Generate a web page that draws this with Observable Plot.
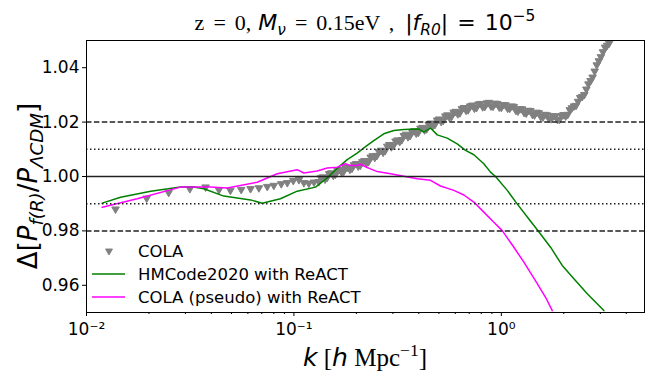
<!DOCTYPE html>
<html><head><meta charset="utf-8">
<script src="https://cdn.jsdelivr.net/npm/d3@7"></script>
<script src="https://cdn.jsdelivr.net/npm/@observablehq/plot@0.6"></script>
<style>body{margin:0;background:#fff}</style>
</head><body><div id="chart"></div>
<script>
// COLA (triangles)
const colaK = [0.0138,0.0195,0.0249,0.0315,0.0375,0.0435,0.0494,0.0557,0.0618,0.0678,0.0744,0.0800,0.0869,0.0929,0.0993,0.1057,0.1117,0.1180,0.1250,
0.1318,0.1380,0.1445,0.1514,0.1585,0.1660,0.1738,0.1820,0.1905,0.1995,0.2089,0.2188,0.2291,0.2399,0.2512,0.2630,0.2754,0.2884,0.3020,0.3162,
0.3311,0.3467,0.3631,0.3802,0.3981,0.4169,0.4365,0.4571,0.4786,0.5012,0.5248,0.5495,0.5754,0.6026,0.6310,0.6607,0.6918,0.7244,0.7586,0.7943,
0.8318,0.8710,0.9120,0.9550,1.000,1.047,1.096,1.148,1.202,1.259,1.318,1.380,1.445,1.514,1.585,1.660,1.738,1.820,1.905,1.995,2.089,2.188,
2.239,2.291,2.344,2.399,2.455,2.512,2.570,2.630,2.692,2.754,2.818,2.884,2.951,3.020,3.090,3.162,3.236,3.311,3.388,3.467,3.548,3.631];
const colaV = [0.9880,0.9920,0.9941,0.9955,0.9961,0.9951,0.9949,0.9952,0.9955,0.9958,0.9963,0.9967,0.9973,0.9977,0.9985,0.9988,0.9977,0.9975,0.9979,
0.9981,0.9998,0.9996,1.0013,1.0008,1.0025,1.0019,1.0034,1.0030,1.0047,1.0041,1.0058,1.0055,1.0076,1.0077,1.0096,1.0095,1.0117,1.0114,1.0134,
1.0135,1.0155,1.0150,1.0168,1.0162,1.0180,1.0175,1.0196,1.0191,1.0211,1.0206,1.0226,1.0221,1.0239,1.0234,1.0253,1.0245,1.0262,1.0253,1.0268,
1.0257,1.0272,1.0258,1.0268,1.0254,1.0263,1.0250,1.0257,1.0240,1.0248,1.0233,1.0242,1.0226,1.0234,1.0218,1.0226,1.0212,1.0222,1.0209,1.0227,1.0228,1.0252,
1.0259,1.0261,1.0276,1.0290,1.0294,1.0301,1.0321,1.0340,1.0352,1.0365,1.0387,1.0410,1.0425,1.0440,1.0458,1.0475,1.0482,1.0490,1.0507,1.0525,1.0537,1.0550];
// COLA, further points of the dense band
const colaK2 = [0.1349,0.1413,0.1479,0.1549,0.1622,0.1698,0.1778,0.1862,0.1950,0.2042,0.2138,0.2239,0.2344,0.2455,0.2570,0.2692,0.2818,0.2951,0.3090,
0.3236,0.3388,0.3548,0.3715,0.3890,0.4074,0.4266,0.4467,0.4677,0.4898,0.5129,0.5370,0.5623,0.5888,0.6166,0.6457,0.6761,0.7079,0.7413,0.7762,
0.8128,0.8511,0.8913,0.9333,0.9772,1.023,1.072,1.122,1.175,1.230,1.288,1.349,1.413,1.479,1.549,1.622,1.698,1.778,1.862,1.950,2.042,2.138];
const colaV2 = [0.9995,0.9990,1.0010,1.0004,1.0021,1.0016,1.0032,1.0026,1.0043,1.0038,1.0054,1.0050,1.0071,1.0070,1.0091,1.0089,1.0111,1.0109,1.0130,
1.0128,1.0150,1.0146,1.0165,1.0159,1.0177,1.0171,1.0191,1.0187,1.0207,1.0202,1.0222,1.0217,1.0236,1.0230,1.0249,1.0243,1.0259,1.0251,1.0266,
1.0256,1.0270,1.0259,1.0269,1.0255,1.0264,1.0251,1.0259,1.0243,1.0249,1.0235,1.0243,1.0228,1.0236,1.0220,1.0228,1.0213,1.0223,1.0210,1.0224,1.0222,1.0245];

// HMCode2020 with ReACT
const hmK = [0.0119,0.0146,0.0204,0.0284,0.0329,0.0368,0.0459,0.0618,0.0703,0.0861,0.1037,0.1271,0.1447,0.1617,0.1807,0.2018,0.2214,0.2427,0.2713,
0.3032,0.3388,0.4001,0.4229,0.4556,0.4908,0.5484,0.6128,0.6720,0.7370,0.8233,0.8869,0.9376,1.068,1.184,1.357,1.490,1.727,1.966,2.237,2.596,3.120];
const hmV = [0.9902,0.9924,0.9946,0.9961,0.9961,0.9955,0.9928,0.9914,0.9902,0.9918,0.9946,0.9961,0.9995,1.0030,1.0062,1.0086,1.0110,1.0132,1.0157,
1.0169,1.0173,1.0175,1.0163,1.0178,1.0153,1.0141,1.0120,1.0096,1.0080,1.0047,1.0016,1.0000,0.9949,0.9902,0.9844,0.9804,0.9740,0.9673,0.9624,0.9569,0.9507];

// COLA (pseudo) with ReACT
const psK = [0.0119,0.01756,0.02839,0.03961,0.04770,0.06653,0.08309,0.1037,0.1116,0.1295,0.1447,0.1617,0.1773,0.1875,0.2018,0.2095,0.2256,0.2340,0.2522,
0.2922,0.3388,0.3930,0.4556,0.5089,0.5902,0.6595,0.7370,0.8233,0.9201,1.010,1.149,1.284,1.490,1.634,1.760];
const psV = [0.9887,0.9918,0.9961,0.9961,0.9958,0.9979,1.0010,1.0025,1.0013,1.0020,1.0031,1.0034,1.0047,1.0040,1.0040,1.0045,1.0033,1.0028,1.0018,
1.0010,1.0001,0.9992,0.9986,0.9965,0.9949,0.9932,0.9906,0.9869,0.9832,0.9801,0.9740,0.9685,0.9606,0.9556,0.9507];

const xMajorTicks = [0.01, 0.1, 1];
const xTickLabels = ["10\u207B\u00B2", "10\u207B\u00B9", "10\u2070"];
const xMinorTicks = [0.02,0.03,0.04,0.05,0.06,0.07,0.08,0.09,0.2,0.3,0.4,0.5,0.6,0.7,0.8,0.9,2,3,4];
const yTicks = [0.96, 0.98, 1.00, 1.02, 1.04];
const refSolid = [1.0];
const refDashed = [0.98, 1.02];
const refDotted = [0.99, 1.01];
const legendLabels = ["COLA", "HMCode2020 with ReACT", "COLA (pseudo) with ReACT"];
const colors = ["#808080", "#008000", "#ff00ff"];

const cola = colaK.map((k, i) => ({k, v: colaV[i]})).concat(colaK2.map((k, i) => ({k, v: colaV2[i]})));
const hm = hmK.map((k, i) => ({k, v: hmV[i]}));
const ps = psK.map((k, i) => ({k, v: psV[i]}));

const chart = Plot.plot({
  width: 651, height: 382,
  marginTop: 40, marginBottom: 70, marginLeft: 86, marginRight: 7,
  x: {type: "log", domain: [0.01, 4.9]},
  y: {domain: [0.95, 1.05]},
  style: {fontFamily: "DejaVu Sans", fontSize: "17px", color: "black", background: "white"},
  marks: [
    Plot.dot(cola, {x: "k", y: "v", symbol: "triangle", rotate: 180, r: 2.8, fill: colors[0], stroke: colors[0], strokeWidth: 1, clip: true}),
    Plot.line(hm, {x: "k", y: "v", stroke: colors[1], strokeWidth: 1.5, clip: true}),
    Plot.line(ps, {x: "k", y: "v", stroke: colors[2], strokeWidth: 1.5, clip: true}),
    Plot.ruleY(refSolid, {stroke: "#222", strokeWidth: 1.5}),
    Plot.ruleY(refDashed, {stroke: "#222", strokeWidth: 1.5, strokeDasharray: "5.5,2.4"}),
    Plot.ruleY(refDotted, {stroke: "#222", strokeWidth: 1.5, strokeDasharray: "1.5,2.5"}),
    Plot.axisX({ticks: xMajorTicks, tickFormat: d => xTickLabels[xMajorTicks.indexOf(d)], tickSize: 4, tickPadding: 6, label: null}),
    Plot.axisX({ticks: xMinorTicks, tickFormat: () => "", tickSize: 2, label: null}),
    Plot.axisY({ticks: yTicks, tickFormat: d3.format(".2f"), tickSize: 4, tickPadding: 3, label: null}),
    Plot.frame({stroke: "black", strokeWidth: 1})
  ]
});
document.getElementById("chart").appendChild(chart);

const svg = d3.select(chart);
const sans = "DejaVu Sans", serif = "Liberation Serif";
function rich(g, parts, size) {
  let prev = 0;
  parts.forEach(p => {
    const fs = p.sub || p.sup ? size * 0.7 : size;
    const shift = p.sub ? size * 0.22 : p.sup ? -size * 0.42 : 0;
    g.append("tspan").text(p.t)
      .attr("font-family", p.f || sans)
      .attr("font-style", p.i ? "italic" : "normal")
      .attr("font-size", fs)
      .attr("dx", p.dx || 0)
      .attr("dy", shift - prev);
    prev = shift;
  });
}
// Title
const title = svg.append("text").attr("x", 365).attr("y", 30).attr("text-anchor", "middle").attr("fill", "black");
rich(title, [
  {t: "z", f: serif},
  {t: "=", f: serif, dx: 9},
  {t: "0,", f: serif, dx: 9},
  {t: "M", i: true, dx: 7},
  {t: "\u03BD", i: true, sub: true},
  {t: "=", f: serif, dx: 9},
  {t: "0.15eV", f: serif, dx: 9},
  {t: ",", f: serif, dx: 11},
  {t: "|", dx: 11},
  {t: "f", i: true},
  {t: "R0", i: true, sub: true},
  {t: "|"},
  {t: "=", dx: 9},
  {t: "10", dx: 9},
  {t: "\u22125", sup: true}
], 22);
// X label
const xl = svg.append("text").attr("x", 365).attr("y", 366).attr("text-anchor", "middle").attr("fill", "black");
rich(xl, [
  {t: "k", i: true},
  {t: " [", f: serif},
  {t: "h", i: true},
  {t: " Mpc", f: serif},
  {t: "\u22121", f: serif, sup: true},
  {t: "]", f: serif}
], 25);
// Y label
const yl = svg.append("text").attr("transform", "translate(37,186) rotate(-90)").attr("text-anchor", "middle").attr("fill", "black");
rich(yl, [
  {t: "\u0394["},
  {t: "P", i: true},
  {t: "f(R)", i: true, sub: true},
  {t: "/"},
  {t: "P", i: true},
  {t: "\u039BCDM", i: true, sub: true},
  {t: "]"}
], 26);
// Legend
const lg = svg.append("g").attr("text-anchor", "start");
const rows = [251, 274, 297];
lg.append("path").attr("d", d3.symbol(d3.symbolTriangle, 21)()).attr("transform", `translate(109,${rows[0]}) rotate(180)`).attr("fill", colors[0]).attr("stroke", colors[0]).attr("stroke-width", 0.9);
lg.append("line").attr("x1", 92).attr("x2", 125).attr("y1", rows[1]).attr("y2", rows[1]).attr("stroke", colors[1]).attr("stroke-width", 1.5);
lg.append("line").attr("x1", 92).attr("x2", 125).attr("y1", rows[2]).attr("y2", rows[2]).attr("stroke", colors[2]).attr("stroke-width", 1.5);
legendLabels.forEach((t, i) => {
  lg.append("text").attr("x", 138).attr("y", rows[i]).attr("dy", "0.36em").attr("font-size", 16.5).attr("fill", "black").text(t);
});
</script>
</body></html>
